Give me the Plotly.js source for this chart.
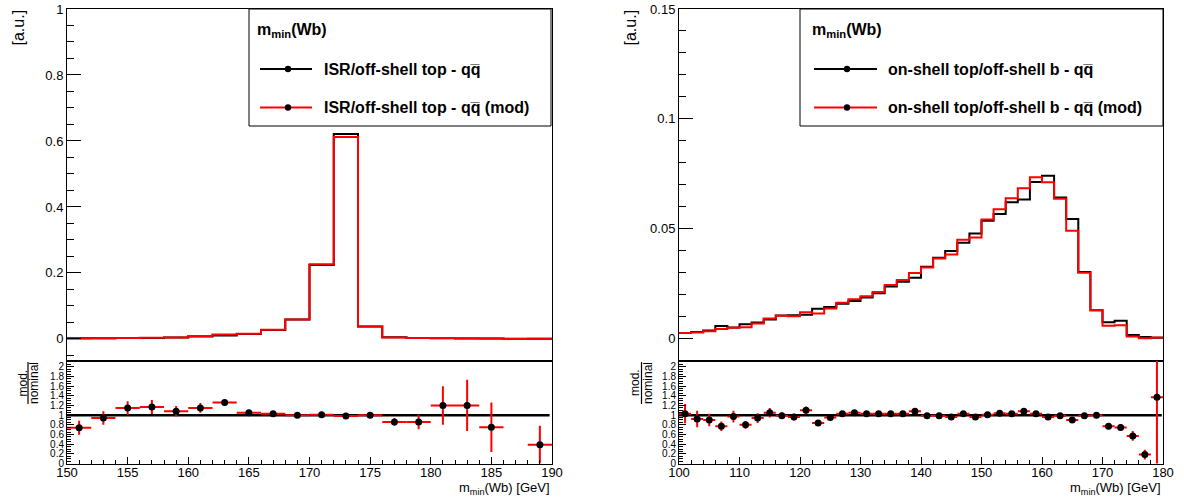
<!DOCTYPE html>
<html><head><meta charset="utf-8">
<script src="https://cdn.plot.ly/plotly-3.0.1.min.js"></script>
<style>html,body{margin:0;padding:0;background:#fff;}#plot{width:1184px;height:499px;}</style>
</head><body><div id="plot"></div>
<script>
// ---------- data ----------
const leftBinStart = 150, leftBinWidth = 2;
const leftNominal = [0.0020,0.0022,0.0025,0.0030,0.0040,0.0075,0.0105,0.0150,0.0270,0.0590,0.2240,0.6210,0.0375,0.0050,0.0030,0.0020,0.0015,0.0012,0.0005,0.0006];
const leftMod     = [0.0015,0.0021,0.0029,0.0035,0.0043,0.0086,0.0132,0.0158,0.0278,0.0590,0.2262,0.6120,0.0375,0.0043,0.0026,0.0024,0.0018,0.0009,0.0000,0.0002];
const leftRatio   = [0.74,0.94,1.15,1.17,1.08,1.15,1.26,1.05,1.03,1.00,1.01,0.98,1.00,0.86,0.86,1.20,1.20,0.75,null,0.39];
const leftRatioErr= [0.145,0.14,0.14,0.145,0.11,0.10,0.06,0.03,0.02,0.01,0.01,0.005,0.02,0.08,0.15,0.40,0.53,0.51,0,0.39];

const rightBinStart = 100, rightBinWidth = 2;
const rightNominal = [0.0024,0.0029,0.0036,0.0056,0.0050,0.0064,0.0072,0.0086,0.0104,0.0105,0.0108,0.0135,0.0143,0.0158,0.0170,0.0186,0.0205,0.0236,0.0258,0.0276,0.0326,0.0367,0.0398,0.0436,0.0478,0.0536,0.0566,0.0620,0.0633,0.0712,0.0741,0.0642,0.0544,0.0302,0.0128,0.0074,0.0080,0.0015,0.0006,0.0003];
const rightMod     = [0.00247,0.00267,0.00324,0.00431,0.00485,0.00512,0.00677,0.00903,0.01030,0.01008,0.01188,0.01134,0.01359,0.01627,0.01785,0.01916,0.02112,0.02431,0.02657,0.02981,0.03227,0.03633,0.03821,0.04491,0.04589,0.05414,0.05886,0.06386,0.06836,0.07334,0.07114,0.06356,0.04896,0.02990,0.01280,0.00570,0.00596,0.00086,0.00011,0.00041];
const rightRatio   = [1.03,0.92,0.90,0.77,0.97,0.80,0.94,1.05,0.99,0.96,1.10,0.84,0.95,1.03,1.05,1.03,1.03,1.03,1.03,1.08,0.99,0.99,0.96,1.03,0.96,1.01,1.04,1.03,1.08,1.03,0.96,0.99,0.90,0.99,1.00,0.77,0.745,0.57,0.185,1.37];
const rightRatioErr= [0.20,0.17,0.13,0.10,0.12,0.08,0.10,0.10,0.07,0.07,0.08,0.05,0.05,0.05,0.05,0.04,0.04,0.04,0.04,0.04,0.03,0.03,0.03,0.03,0.03,0.03,0.03,0.03,0.03,0.03,0.03,0.03,0.03,0.03,0.04,0.06,0.06,0.10,0.10,1.8];

const qqbar = 'q' + 'q\u0305';
const legendHeader = 'm<sub>min</sub>(Wb)';
const leftLabels  = ['ISR/off-shell top - ' + qqbar, 'ISR/off-shell top - ' + qqbar + ' (mod)'];
const rightLabels = ['on-shell top/off-shell b - ' + qqbar, 'on-shell top/off-shell b - ' + qqbar + ' (mod)'];
const yTitle = '[a.u.]';
const xTitle = 'm<sub>min</sub>(Wb) [GeV]';

// ---------- helpers ----------
const W = 1184, H = 499;
const PX = x => x / W, PY = y => 1 - y / H;
function edges(start, w, n){ const e=[]; for(let i=0;i<=n;i++) e.push(start+i*w); return e; }
function centers(start, w, n){ const c=[]; for(let i=0;i<n;i++) c.push(start+(i+0.5)*w); return c; }
function stepY(v){ return v.concat([v[v.length-1]]); }

const FONT = 'Liberation Sans, Arial, sans-serif';

function histTrace(start, w, vals, color, xa, ya){
  return {x: edges(start,w,vals.length), y: stepY(vals), mode:'lines', type:'scatter',
    line:{shape:'hv', color:color, width:2}, xaxis:xa, yaxis:ya, hoverinfo:'skip', showlegend:false};
}
function ratioTrace(start, w, r, err, xa, ya){
  return {x: centers(start,w,r.length), y: r, mode:'markers', type:'scatter',
    marker:{color:'black', size:7}, xaxis:xa, yaxis:ya, showlegend:false,
    error_x:{type:'constant', value:w/2, color:'#ff0000', thickness:2, width:0},
    error_y:{type:'data', array:err, color:'#ff0000', thickness:2, width:0}};
}

const data = [
  histTrace(leftBinStart,leftBinWidth,leftNominal,'#000000','x','y'),
  histTrace(leftBinStart,leftBinWidth,leftMod,'#ff0000','x','y'),
  ratioTrace(leftBinStart,leftBinWidth,leftRatio,leftRatioErr,'x2','y2'),
  histTrace(rightBinStart,rightBinWidth,rightNominal,'#000000','x3','y3'),
  histTrace(rightBinStart,rightBinWidth,rightMod,'#ff0000','x3','y3'),
  ratioTrace(rightBinStart,rightBinWidth,rightRatio,rightRatioErr,'x4','y4')
];

const mainTop = PY(9), split = PY(361), ratioBot = PY(463.5);
const LX = [PX(67), PX(552)], RX = [PX(679), PX(1163)];

function ax(extra){
  return Object.assign({showline:true, mirror:true, linecolor:'#000', linewidth:1,
    ticks:'inside', tickcolor:'#000', showgrid:false, zeroline:false, fixedrange:true,
    tickfont:{family:FONT, size:13, color:'#000'}}, extra);
}

const layout = {
  width: W, height: H, margin:{l:0,r:0,t:0,b:0},
  paper_bgcolor:'#fff', plot_bgcolor:'#fff', showlegend:false,
  font:{family:FONT, color:'#000'},
  xaxis:  ax({domain:LX, range:[150,190], anchor:'y',  showticklabels:false, ticks:''}),
  yaxis:  ax({domain:[split, mainTop], range:[-0.067,1], anchor:'x', dtick:0.2, ticklen:14, minor:{dtick:0.05, ticklen:7, ticks:'inside', tickcolor:'#000'}}),
  xaxis2: ax({domain:LX, range:[150,190], anchor:'y2', dtick:5, ticklen:7, ticklabelstandoff:-3, minor:{dtick:1, ticklen:4, ticks:'inside', tickcolor:'#000'}}),
  yaxis2: ax({domain:[ratioBot, split], range:[0,2.12], anchor:'x2', dtick:0.2, ticklen:7, tickfont:{family:FONT,size:10,color:'#000'}, minor:{dtick:0.05, ticklen:4, ticks:'inside', tickcolor:'#000'}}),
  xaxis3: ax({domain:RX, range:[100,180], anchor:'y3', showticklabels:false, ticks:''}),
  yaxis3: ax({domain:[split, mainTop], range:[-0.0103,0.15], anchor:'x3', dtick:0.05, ticklen:14, minor:{dtick:0.01, ticklen:7, ticks:'inside', tickcolor:'#000'}}),
  xaxis4: ax({domain:RX, range:[100,180], anchor:'y4', dtick:10, ticklen:7, ticklabelstandoff:-3, minor:{dtick:2, ticklen:4, ticks:'inside', tickcolor:'#000'}}),
  yaxis4: ax({domain:[ratioBot, split], range:[0,2.12], anchor:'x4', dtick:0.2, ticklen:7, tickfont:{family:FONT,size:10,color:'#000'}, minor:{dtick:0.05, ticklen:4, ticks:'inside', tickcolor:'#000'}}),
  shapes: [], annotations: []
};

// ratio = 1 lines
layout.shapes.push({type:'line', xref:'x2', yref:'y2', x0:150, x1:189.8, y0:1, y1:1, line:{color:'#000', width:2.5}, layer:'below'});
layout.shapes.push({type:'line', xref:'x4', yref:'y4', x0:100, x1:179.8, y0:1, y1:1, line:{color:'#000', width:2.5}, layer:'below'});

function legend(x0, x1, y0, y1, hx, lx0, lx1, mx, tx, labels){
  layout.shapes.push({type:'rect', xref:'paper', yref:'paper', x0:PX(x0), x1:PX(x1), y0:PY(y1), y1:PY(y0), line:{color:'#000', width:1}, fillcolor:'#fff', layer:'above'});
  layout.annotations.push({xref:'paper', yref:'paper', x:PX(hx), y:PY(31), xanchor:'left', yanchor:'middle', showarrow:false, text:'<b>'+legendHeader+'</b>', font:{family:FONT, size:16, color:'#000'}});
  const ys = [69, 107.5], cols = ['#000000', '#ff0000'];
  for(let i=0;i<2;i++){
    layout.shapes.push({type:'line', xref:'paper', yref:'paper', x0:PX(lx0), x1:PX(lx1), y0:PY(ys[i]), y1:PY(ys[i]), line:{color:cols[i], width:2}});
    layout.shapes.push({type:'circle', xref:'paper', yref:'paper', x0:PX(mx-3.2), x1:PX(mx+3.2), y0:PY(ys[i]+3.2), y1:PY(ys[i]-3.2), fillcolor:'#000', line:{color:'#000', width:0}});
    layout.annotations.push({xref:'paper', yref:'paper', x:PX(tx), y:PY(ys[i]), xanchor:'left', yanchor:'middle', showarrow:false, text:'<b>'+labels[i]+'</b>', font:{family:FONT, size:16, color:'#000'}});
  }
}
legend(249, 551, 9, 126, 255, 260, 312, 288, 322, leftLabels);
legend(800, 1163, 9, 126, 810, 814, 877, 847, 886, rightLabels);

function titles(yx, modx, nomx, barx, xr){
  layout.annotations.push({xref:'paper', yref:'paper', x:PX(yx), y:PY(27.5), xanchor:'center', yanchor:'middle', textangle:-90, showarrow:false, text:yTitle, font:{family:FONT, size:16, color:'#000'}});
  layout.annotations.push({xref:'paper', yref:'paper', x:PX(modx), y:PY(383), xanchor:'center', yanchor:'middle', textangle:-90, showarrow:false, text:'mod.', font:{family:FONT, size:12, color:'#000'}});
  layout.annotations.push({xref:'paper', yref:'paper', x:PX(nomx), y:PY(383), xanchor:'center', yanchor:'middle', textangle:-90, showarrow:false, text:'nominal', font:{family:FONT, size:12, color:'#000'}});
  layout.shapes.push({type:'line', xref:'paper', yref:'paper', x0:PX(barx), x1:PX(barx), y0:PY(362), y1:PY(404), line:{color:'#000', width:1.2}});
  layout.annotations.push({xref:'paper', yref:'paper', x:PX(xr), y:PY(488.5), xanchor:'right', yanchor:'middle', showarrow:false, text:xTitle, font:{family:FONT, size:13, color:'#000'}});
}
titles(18, 22.5, 34, 28, 552);
titles(630, 635, 648, 641.5, 1163);

Plotly.newPlot('plot', data, layout, {staticPlot:true});
</script></body></html>
